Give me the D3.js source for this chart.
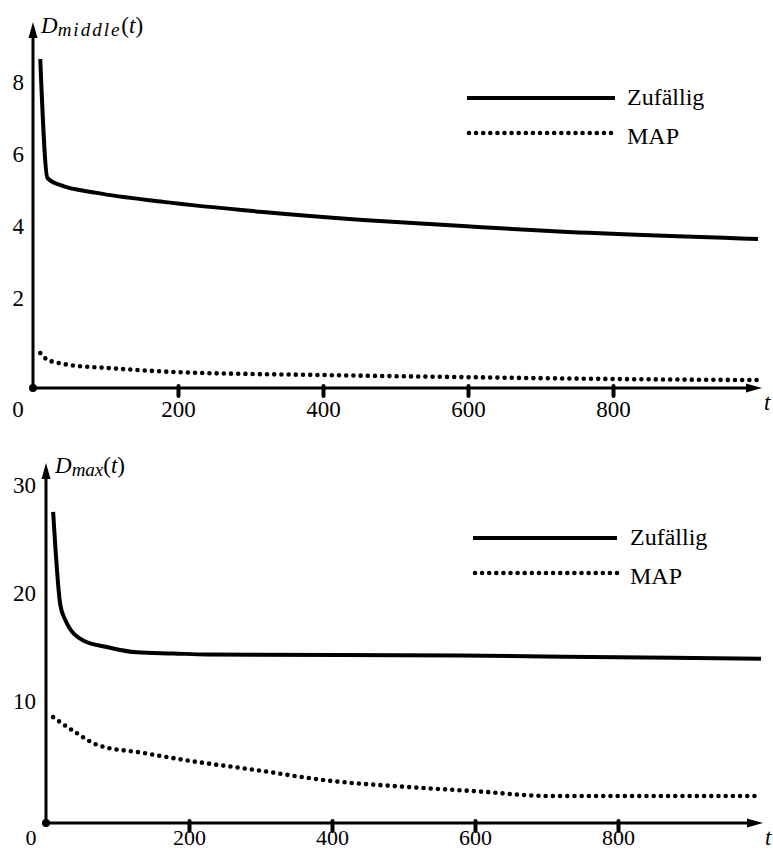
<!DOCTYPE html>
<html>
<head>
<meta charset="utf-8">
<script src="https://cdn.jsdelivr.net/npm/d3@7"></script>
<style>
  body { margin: 0; background: #fff; }
  svg { display: block; font-family: "Liberation Serif", "Times New Roman", Times, serif; }
</style>
</head>
<body>
<svg id="chart" width="773" height="851"></svg>
<script>
// x ticks shared by both panels
const tTicks = [200, 400, 600, 800];
const middleTicks = [2, 4, 6, 8];
const maxTicks = [10, 20, 30];
const seriesNames = ["Zufällig", "MAP"];

// D_middle(t)
const middleZufT = [10, 20, 37, 88, 180, 317, 455, 593, 713, 1000];
const middleZufV = [9.14, 5.83, 5.64, 5.42, 5.17, 4.89, 4.67, 4.5, 4.36, 4.14];
const middleMapT = [10, 20, 30, 50, 100, 200, 400, 600, 800, 1000];
const middleMapV = [0.97, 0.78, 0.72, 0.64, 0.56, 0.44, 0.36, 0.3, 0.25, 0.22];

// D_max(t)
const maxZufT = [10, 20, 27, 52, 85, 127, 178, 225, 580, 800, 1000];
const maxZufV = [28.8, 20.2, 18.8, 16.9, 16.3, 15.8, 15.7, 15.6, 15.5, 15.35, 15.2];
const maxMapT = [10, 40, 73, 135, 197, 294, 398, 500, 597, 707, 850, 1000];
const maxMapV = [9.8, 8.45, 7.2, 6.5, 5.8, 4.9, 3.9, 3.36, 2.96, 2.5, 2.5, 2.5];

const svg = d3.select("#chart");
const serif = '"Liberation Serif", "Times New Roman", Times, serif';

function zip(ts, vs) { return ts.map((t, i) => [t, vs[i]]); }

function drawPanel(cfg) {
  const g = svg.append("g");
  const x = d3.scaleLinear().domain([0, 1000]).range([cfg.left, cfg.right]);
  const y = d3.scaleLinear().domain(cfg.yDomain).range([cfg.bottom, cfg.bottom - cfg.pxPerUnit * cfg.yDomain[1]]);

  const line = d3.line().x(d => x(d[0])).y(d => y(d[1])).curve(d3.curveMonotoneX);

  // series
  g.append("path").datum(zip(cfg.zufT, cfg.zufV))
    .attr("d", line).attr("fill", "none").attr("stroke", "#000")
    .attr("stroke-width", 4).attr("stroke-linejoin", "round");
  g.append("path").datum(zip(cfg.mapT, cfg.mapV))
    .attr("d", line).attr("fill", "none").attr("stroke", "#000")
    .attr("stroke-width", 4.6).attr("stroke-linecap", "round")
    .attr("stroke-dasharray", "0 7.2");

  // x axis
  const xAxis = g.append("g")
    .attr("transform", `translate(0,${cfg.bottom})`)
    .call(d3.axisBottom(x).tickValues(tTicks).tickSize(8));
  xAxis.select(".domain").remove();
  xAxis.selectAll(".tick line").attr("y1", -2).attr("stroke-width", 4).attr("stroke-linecap", "round");
  // y here is the baseline offset below the axis
  xAxis.selectAll(".tick text").attr("font-size", cfg.xFont).attr("font-family", serif)
    .attr("fill", "#000").attr("y", cfg.xLabelY).attr("dy", null);

  // y axis labels, no tick marks
  const yAxis = g.append("g")
    .attr("transform", `translate(${cfg.left},0)`)
    .call(d3.axisLeft(y).tickValues(cfg.yTicks).tickSize(0).tickPadding(cfg.yPad));
  yAxis.select(".domain").remove();
  yAxis.selectAll(".tick text").attr("font-size", 23).attr("font-family", serif)
    .attr("fill", "#000").attr("y", -cfg.labelShift);

  // axis lines with arrows
  g.append("line").attr("x1", cfg.left).attr("y1", cfg.bottom).attr("x2", cfg.arrowX - 10).attr("y2", cfg.bottom)
    .attr("stroke", "#000").attr("stroke-width", 3.2);
  g.append("path")
    .attr("d", `M${cfg.arrowX},${cfg.bottom} L${cfg.arrowX - 16},${cfg.bottom - 4.5} L${cfg.arrowX - 16},${cfg.bottom + 4.5} Z`)
    .attr("fill", "#000");
  g.append("line").attr("x1", cfg.left).attr("y1", cfg.bottom).attr("x2", cfg.left).attr("y2", cfg.arrowY + 10)
    .attr("stroke", "#000").attr("stroke-width", 3);
  g.append("path")
    .attr("d", `M${cfg.left},${cfg.arrowY} L${cfg.left - 4.5},${cfg.arrowY + 16} L${cfg.left + 4.5},${cfg.arrowY + 16} Z`)
    .attr("fill", "#000");
  g.append("circle").attr("cx", cfg.left).attr("cy", cfg.bottom).attr("r", 4).attr("fill", "#000");

  // origin label and t label
  g.append("text").attr("x", cfg.left - 15).attr("y", cfg.bottom + cfg.xLabelY)
    .attr("text-anchor", "middle").attr("font-size", cfg.xFont).text("0");
  g.append("text").attr("x", cfg.arrowX + 2).attr("y", cfg.bottom + 22)
    .attr("font-size", 23).attr("font-style", "italic").text("t");

  // y axis title
  const title = g.append("text").attr("x", cfg.titleX).attr("y", cfg.titleY).attr("font-size", 23);
  title.append("tspan").attr("font-style", "italic").text("D");
  title.append("tspan").attr("font-style", "italic").attr("font-size", 19).attr("dy", 3)
    .attr("letter-spacing", cfg.subSpacing).text(cfg.sub);
  title.append("tspan").attr("dy", -3).text("(");
  title.append("tspan").attr("font-style", "italic").text("t");
  title.append("tspan").text(")");

  // legend
  const lg = g.append("g");
  lg.append("line").attr("x1", cfg.legX1).attr("x2", cfg.legX2).attr("y1", cfg.legY1).attr("y2", cfg.legY1)
    .attr("stroke", "#000").attr("stroke-width", 4);
  lg.append("line").attr("x1", cfg.legX1 + 2).attr("x2", cfg.legX2).attr("y1", cfg.legY2).attr("y2", cfg.legY2)
    .attr("stroke", "#000").attr("stroke-width", 4.6).attr("stroke-linecap", "round").attr("stroke-dasharray", "0 7.1");
  lg.append("text").attr("x", cfg.legTextX).attr("y", cfg.legY1 + 7).attr("font-size", 24).text(seriesNames[0]);
  lg.append("text").attr("x", cfg.legTextX).attr("y", cfg.legY2 + 11).attr("font-size", 24).text(seriesNames[1]);
}

drawPanel({
  left: 33, right: 758, bottom: 388, pxPerUnit: 36, yDomain: [0, 10],
  yTicks: middleTicks, yPad: 9, labelShift: 18, xLabelY: 29, xFont: 23,
  arrowX: 762, arrowY: 22,
  zufT: middleZufT, zufV: middleZufV, mapT: middleMapT, mapV: middleMapV,
  titleX: 41, titleY: 33, sub: "middle", subSpacing: 2,
  legX1: 467, legX2: 615, legY1: 98, legY2: 133, legTextX: 627
});

drawPanel({
  left: 46, right: 761, bottom: 823, pxPerUnit: 10.8, yDomain: [0, 30],
  yTicks: maxTicks, yPad: 10, labelShift: 14, xLabelY: 22, xFont: 22,
  arrowX: 763, arrowY: 463,
  zufT: maxZufT, zufV: maxZufV, mapT: maxMapT, mapV: maxMapV,
  titleX: 55, titleY: 473, sub: "max", subSpacing: 0,
  legX1: 473, legX2: 617, legY1: 538, legY2: 573, legTextX: 630
});
</script>
</body>
</html>
